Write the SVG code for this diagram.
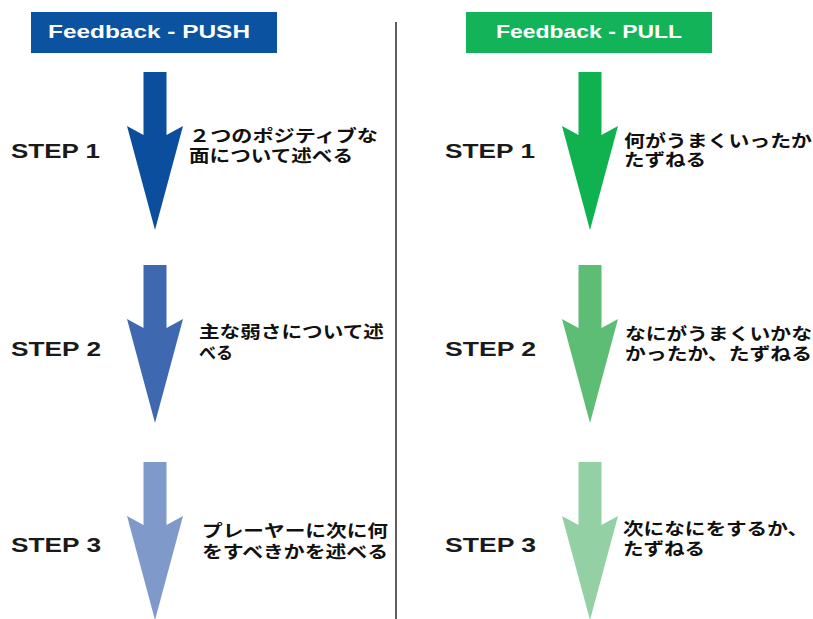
<svg xmlns="http://www.w3.org/2000/svg" xmlns:xlink="http://www.w3.org/1999/xlink" width="813" height="619" viewBox="0 0 813 619">
  <style>
    .hdr { font-family: "Liberation Sans", Arial, sans-serif; font-weight: bold; font-size: 18px; fill: #ffffff; }
    .step { font-family: "Liberation Sans", Arial, sans-serif; font-weight: bold; font-size: 21px; fill: #1a1a1a; }
    .jp { font-family: "Noto Sans CJK JP", "Noto Sans CJK SC", sans-serif; font-weight: bold; font-size: 17px; fill: #111111; }
  </style>
  <defs>
    <!-- block arrow, origin at top centre of the shaft -->
    <path id="blockArrow" d="M-11.5,0 H11.5 V63 L28,54 L0,158 L-28,54 L-11.5,63 Z"/>
  </defs>

  <rect width="813" height="619" fill="#ffffff"/>

  <!-- column divider -->
  <line x1="396" y1="22" x2="396" y2="619" stroke="#2a2a2a" stroke-width="1.5"/>

  <!-- column headers -->
  <g id="header-push">
    <rect x="31" y="12" width="246" height="41" fill="#0b52a0"/>
    <text class="hdr" x="48" y="38" textLength="202" lengthAdjust="spacingAndGlyphs">Feedback - PUSH</text>
  </g>
  <g id="header-pull">
    <rect x="466" y="12" width="246" height="41" fill="#13b35a"/>
    <text class="hdr" x="496" y="38" textLength="186" lengthAdjust="spacingAndGlyphs">Feedback - PULL</text>
  </g>

  <!-- downward flow arrows -->
  <g id="connectors">
    <use xlink:href="#blockArrow" href="#blockArrow" x="155" y="72" fill="#0b4e9e"/>
    <use xlink:href="#blockArrow" href="#blockArrow" x="155" y="265" fill="#3e69b0"/>
    <use xlink:href="#blockArrow" href="#blockArrow" x="155" y="462" fill="#7f99cb"/>
    <use xlink:href="#blockArrow" href="#blockArrow" x="590" y="72" fill="#0fb24f"/>
    <use xlink:href="#blockArrow" href="#blockArrow" x="590" y="265" fill="#5dbd75"/>
    <use xlink:href="#blockArrow" href="#blockArrow" x="590" y="462" fill="#93d1a4"/>
  </g>

  <!-- PUSH column steps -->
  <g id="push-step1">
    <text class="step" x="11" y="158" textLength="89" lengthAdjust="spacingAndGlyphs">STEP 1</text>
    <text class="jp" x="189" y="142" textLength="189" lengthAdjust="spacingAndGlyphs">２つのポジティブな</text>
    <text class="jp" x="189" y="162" textLength="164" lengthAdjust="spacingAndGlyphs">面について述べる</text>
  </g>
  <g id="push-step2">
    <text class="step" x="11" y="356" textLength="90" lengthAdjust="spacingAndGlyphs">STEP 2</text>
    <text class="jp" x="199" y="338" textLength="185" lengthAdjust="spacingAndGlyphs">主な弱さについて述</text>
    <text class="jp" x="199" y="359">べる</text>
  </g>
  <g id="push-step3">
    <text class="step" x="11" y="552" textLength="90" lengthAdjust="spacingAndGlyphs">STEP 3</text>
    <text class="jp" x="202" y="537" textLength="186" lengthAdjust="spacingAndGlyphs">プレーヤーに次に何</text>
    <text class="jp" x="202" y="558" textLength="186" lengthAdjust="spacingAndGlyphs">をすべきかを述べる</text>
  </g>

  <!-- PULL column steps -->
  <g id="pull-step1">
    <text class="step" x="445" y="158" textLength="90" lengthAdjust="spacingAndGlyphs">STEP 1</text>
    <text class="jp" x="624" y="147" textLength="188" lengthAdjust="spacingAndGlyphs">何がうまくいったか</text>
    <text class="jp" x="624" y="166" textLength="82" lengthAdjust="spacingAndGlyphs">たずねる</text>
  </g>
  <g id="pull-step2">
    <text class="step" x="445" y="356" textLength="91" lengthAdjust="spacingAndGlyphs">STEP 2</text>
    <text class="jp" x="625" y="340" textLength="187" lengthAdjust="spacingAndGlyphs">なにがうまくいかな</text>
    <text class="jp" x="625" y="360" textLength="187" lengthAdjust="spacingAndGlyphs">かったか、たずねる</text>
  </g>
  <g id="pull-step3">
    <text class="step" x="445" y="552" textLength="91" lengthAdjust="spacingAndGlyphs">STEP 3</text>
    <text class="jp" x="623" y="535" textLength="185" lengthAdjust="spacingAndGlyphs">次になにをするか、</text>
    <text class="jp" x="623" y="555" textLength="82" lengthAdjust="spacingAndGlyphs">たずねる</text>
  </g>
</svg>
